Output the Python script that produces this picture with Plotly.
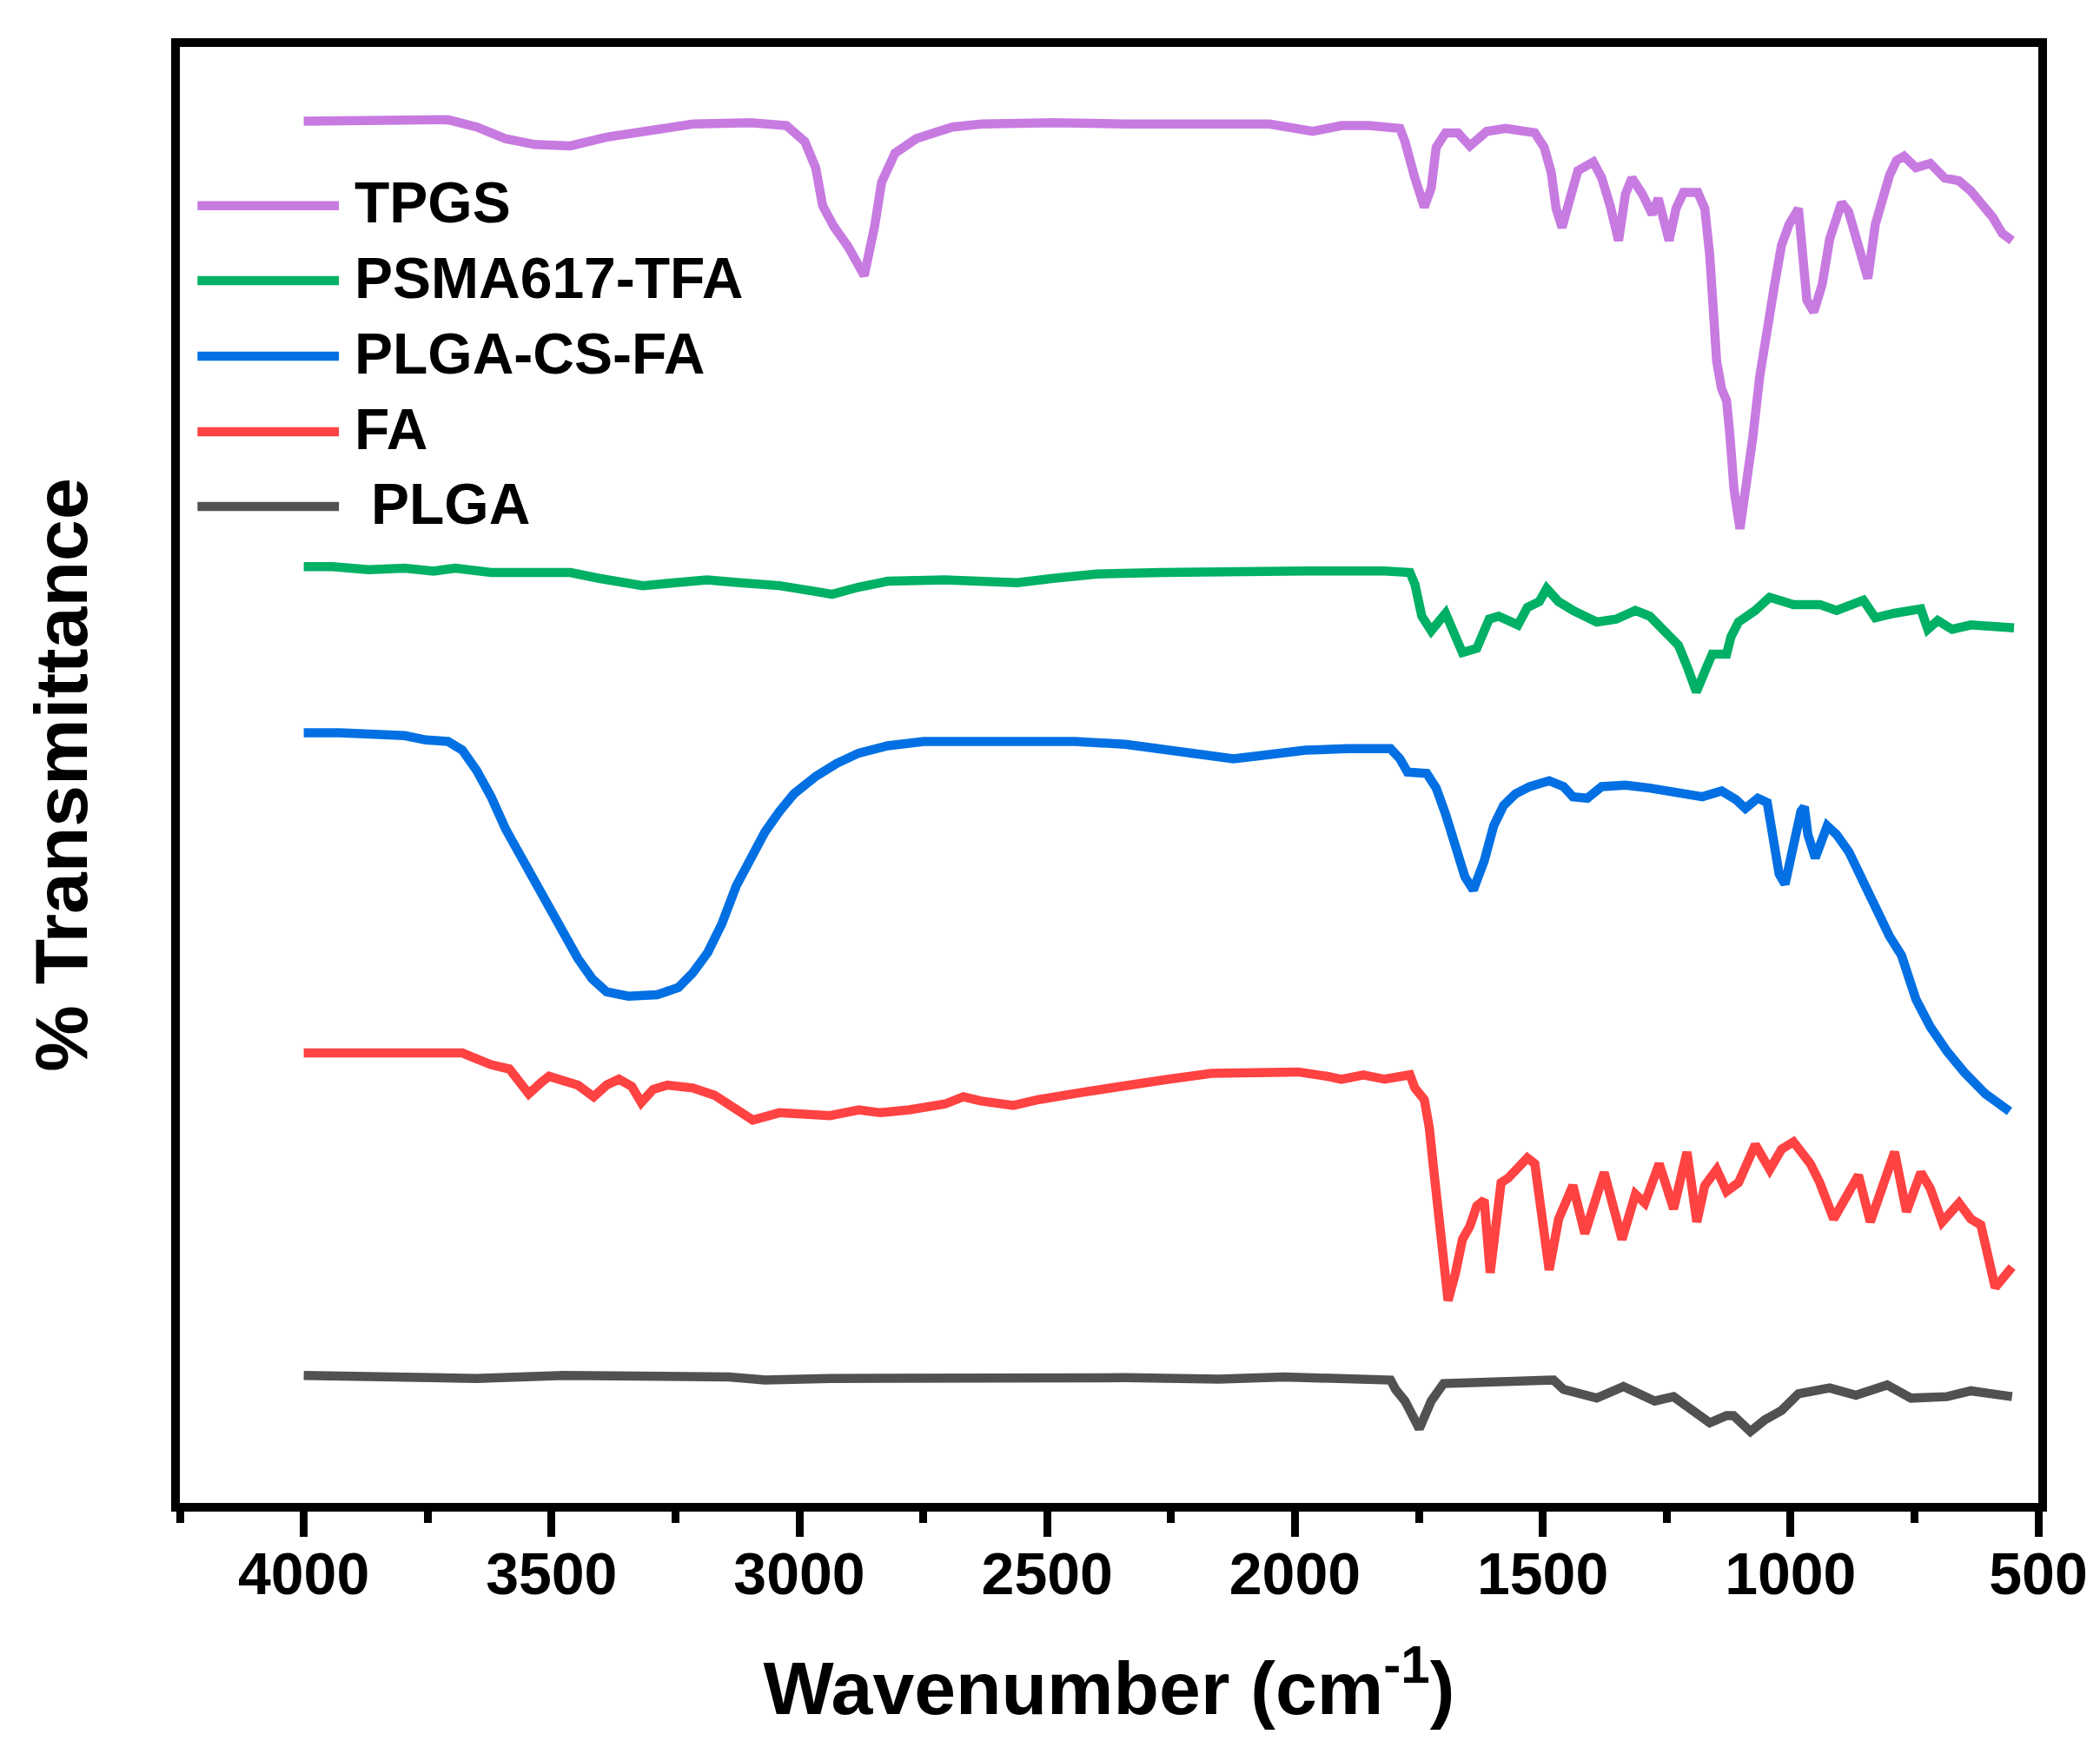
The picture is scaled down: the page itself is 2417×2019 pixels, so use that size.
import plotly.graph_objects as go

# ---------------- data (wavenumber cm^-1, % transmittance, offset per sample) ----------------
TPGS = [(4000, 94.9), (3753, 94.9), (3709, 95.0), (3651, 94.5), (3593, 93.7), (3534, 93.3),
        (3462, 93.2), (3389, 93.8), (3302, 94.3), (3215, 94.7), (3098, 94.8), (3026, 94.6),
        (2989, 93.5), (2967, 91.7), (2953, 89.1), (2931, 87.7), (2902, 86.3), (2869, 84.3),
        (2848, 87.7), (2834, 90.7), (2807, 92.7), (2764, 93.7), (2691, 94.5), (2633, 94.7),
        (2488, 94.8), (2342, 94.7), (2051, 94.7), (1964, 94.2), (1906, 94.6), (1850, 94.6),
        (1788, 94.4), (1778, 93.5), (1758, 91.0), (1739, 89.0), (1725, 90.3), (1715, 93.1),
        (1696, 94.1), (1671, 94.1), (1647, 93.2), (1613, 94.2), (1575, 94.4), (1516, 94.1),
        (1497, 93.1), (1483, 91.4), (1473, 88.9), (1461, 87.6), (1444, 89.7), (1429, 91.5),
        (1398, 92.1), (1381, 91.0), (1364, 89.1), (1347, 86.7), (1333, 89.9), (1320, 91.0),
        (1299, 89.9), (1279, 88.5), (1267, 89.6), (1255, 88.0), (1245, 86.7), (1231, 88.9),
        (1216, 90.0), (1187, 90.0), (1173, 88.9), (1163, 85.7), (1156, 82.6), (1149, 78.4),
        (1139, 76.5), (1129, 75.7), (1122, 73.2), (1114, 69.6), (1102, 66.9), (1091, 69.4),
        (1076, 73.2), (1062, 77.4), (1047, 80.9), (1032, 83.7), (1018, 86.4), (1003, 87.8),
        (984, 88.9), (974, 85.7), (967, 82.6), (953, 81.8), (936, 83.7), (921, 86.8),
        (907, 88.5), (897, 89.3), (883, 88.7), (868, 86.8), (853, 84.7), (844, 84.1),
        (829, 87.8), (815, 89.7), (800, 91.2), (786, 92.2), (771, 92.5), (747, 91.7),
        (718, 92.0), (689, 91.0), (660, 90.8), (636, 90.1), (616, 89.3), (592, 88.3),
        (573, 87.2), (553, 86.7)]

PSMA617_TFA = [(4000, 64.3), (3942, 64.3), (3869, 64.1), (3796, 64.2), (3738, 64.0), (3694, 64.2),
               (3622, 63.9), (3462, 63.9), (3404, 63.5), (3316, 63.0), (3251, 63.2), (3186, 63.4),
               (3120, 63.2), (3040, 63.0), (2967, 62.6), (2934, 62.4), (2880, 62.9), (2822, 63.3),
               (2706, 63.4), (2560, 63.2), (2488, 63.5), (2400, 63.8), (2270, 63.9), (2153, 64.0),
               (1979, 64.0), (1819, 64.0), (1768, 63.9), (1758, 63.1), (1744, 60.9), (1725, 59.9),
               (1696, 61.1), (1676, 59.5), (1662, 58.4), (1633, 58.7), (1608, 60.7), (1589, 60.9),
               (1550, 60.3), (1531, 61.5), (1507, 61.9), (1492, 62.8), (1468, 61.9), (1439, 61.3),
               (1391, 60.5), (1352, 60.7), (1313, 61.3), (1284, 60.9), (1255, 59.9), (1226, 58.9),
               (1207, 57.3), (1190, 55.7), (1173, 57.1), (1158, 58.3), (1129, 58.3), (1120, 59.5),
               (1105, 60.5), (1071, 61.3), (1042, 62.2), (994, 61.7), (941, 61.7), (907, 61.3),
               (853, 62.0), (829, 60.8), (791, 61.1), (737, 61.4), (723, 60.0), (703, 60.6),
               (674, 60.0), (636, 60.3), (549, 60.1)]

PLGA_CS_FA = [(4000, 52.9), (3927, 52.9), (3796, 52.7), (3753, 52.4), (3709, 52.3), (3680, 51.7),
              (3651, 50.3), (3622, 48.5), (3593, 46.3), (3564, 44.5), (3534, 42.8), (3505, 40.8),
              (3476, 39.0), (3447, 37.4), (3418, 36.0), (3389, 35.1), (3345, 34.8), (3287, 34.9),
              (3244, 35.4), (3215, 36.4), (3185, 37.8), (3156, 39.8), (3127, 42.4), (3098, 44.4),
              (3069, 46.1), (3040, 47.5), (3011, 48.7), (2967, 49.9), (2924, 50.8), (2880, 51.5),
              (2822, 52.0), (2749, 52.3), (2633, 52.3), (2444, 52.3), (2342, 52.1), (2270, 51.8),
              (2197, 51.4), (2124, 51.1), (2051, 51.4), (1979, 51.7), (1894, 51.8), (1807, 51.8),
              (1788, 51.1), (1773, 50.2), (1734, 50.1), (1715, 49.1), (1696, 47.3), (1676, 45.1),
              (1657, 43.0), (1640, 42.1), (1618, 44.1), (1599, 46.5), (1579, 47.9), (1555, 48.7),
              (1526, 49.2), (1487, 49.6), (1458, 49.2), (1439, 48.5), (1410, 48.4), (1381, 49.2),
              (1333, 49.3), (1284, 49.1), (1236, 48.8), (1178, 48.5), (1139, 48.9), (1110, 48.3),
              (1091, 47.7), (1066, 48.4), (1047, 48.1), (1032, 45.5), (1023, 43.2), (1011, 42.5),
              (994, 45.1), (979, 47.5), (972, 47.8), (965, 45.9), (950, 44.3), (936, 45.9),
              (926, 46.5), (907, 45.9), (882, 44.7), (858, 43.0), (829, 41.0), (800, 38.9),
              (776, 37.6), (747, 34.6), (718, 32.7), (684, 31.0), (650, 29.6), (607, 28.1),
              (558, 26.9)]

FA = [(4000, 30.9), (3680, 30.9), (3651, 30.5), (3622, 30.1), (3585, 29.8), (3564, 28.8),
      (3546, 28.1), (3520, 28.9), (3505, 29.3), (3476, 29.0), (3447, 28.7), (3415, 27.9),
      (3389, 28.7), (3364, 29.1), (3338, 28.6), (3319, 27.5), (3295, 28.4), (3266, 28.7),
      (3215, 28.5), (3171, 28.0), (3127, 27.1), (3094, 26.3), (3040, 26.8), (2982, 26.7),
      (2938, 26.6), (2880, 27.0), (2837, 26.8), (2778, 27.0), (2706, 27.4), (2669, 27.9),
      (2633, 27.6), (2568, 27.3), (2517, 27.7), (2429, 28.2), (2342, 28.7), (2255, 29.1),
      (2168, 29.5), (2080, 29.6), (1993, 29.6), (1935, 29.3), (1906, 29.1), (1862, 29.4),
      (1819, 29.1), (1768, 29.4), (1758, 28.5), (1739, 27.7), (1729, 25.8), (1720, 22.9),
      (1710, 20.0), (1700, 15.8), (1691, 13.9), (1676, 15.8), (1662, 18.1), (1647, 19.0),
      (1633, 20.4), (1618, 20.8), (1606, 15.8), (1584, 22.0), (1570, 22.3), (1531, 23.7),
      (1516, 23.3), (1487, 16.0), (1468, 19.5), (1439, 21.8), (1415, 18.5), (1376, 22.7),
      (1340, 18.1), (1313, 21.2), (1294, 20.6), (1265, 23.3), (1236, 20.2), (1209, 24.1),
      (1189, 19.3), (1173, 21.8), (1149, 22.9), (1129, 21.4), (1105, 22.0), (1071, 24.6),
      (1042, 22.9), (1018, 24.3), (994, 24.8), (960, 23.3), (941, 22.0), (913, 19.5),
      (863, 22.5), (839, 19.3), (790, 24.1), (766, 20.0), (737, 22.7), (718, 21.6),
      (694, 19.3), (660, 20.6), (636, 19.5), (616, 19.1), (587, 14.8), (570, 15.5),
      (553, 16.2)]

PLGA = [(4000, 8.75), (3753, 8.55), (3651, 8.55), (3476, 8.75), (3142, 8.65), (3069, 8.45),
        (2938, 8.55), (2342, 8.6), (2153, 8.5), (2022, 8.65), (1894, 8.44), (1807, 8.44),
        (1797, 7.8), (1778, 7.0), (1749, 5.1), (1725, 7.0), (1700, 8.2), (1623, 8.25),
        (1478, 8.44), (1458, 7.8), (1420, 7.4), (1391, 7.2), (1337, 8.0), (1313, 7.6),
        (1274, 7.0), (1236, 7.3), (1197, 6.35), (1163, 5.5), (1129, 6.0), (1115, 6.0),
        (1081, 4.9), (1052, 5.7), (1018, 6.35), (984, 7.5), (921, 7.9), (868, 7.4),
        (805, 8.1), (757, 7.2), (684, 7.3), (636, 7.7), (553, 7.3)]

SERIES_NAMES = ["TPGS", "PSMA617-TFA", "PLGA-CS-FA", "FA", "PLGA"]
SERIES_DATA = [TPGS, PSMA617_TFA, PLGA_CS_FA, FA, PLGA]
SERIES_COLORS = ["#C77BE1", "#00B065", "#0270E3", "#FF4242", "#515151"]
LEGEND_LABELS = ["TPGS", "PSMA617-TFA", "PLGA-CS-FA", "FA", "PLGA"]

X_TITLE = "Wavenumber (cm<sup>-1</sup>)"
Y_TITLE = "% Transmittance"

# ---------------- figure ----------------
FONT = "Liberation Sans, Arial, Helvetica, sans-serif"
fig = go.Figure()
for name, pts, color in zip(SERIES_NAMES, SERIES_DATA, SERIES_COLORS):
    fig.add_trace(go.Scatter(
        x=[p[0] for p in pts], y=[p[1] for p in pts], mode="lines", name=name,
        line=dict(color=color, width=10.5), showlegend=False, hoverinfo="x+y+name"))

# manual legend (long line samples as in the original)
leg_y = [0.891, 0.8395, 0.7876, 0.7357, 0.6844]
leg_text_x = [0.093, 0.093, 0.093, 0.093, 0.102]
shapes = []
annotations = []
for i, (label, color) in enumerate(zip(LEGEND_LABELS, SERIES_COLORS)):
    shapes.append(dict(type="line", xref="paper", yref="paper", x0=0.0095, x1=0.0856,
                       y0=leg_y[i], y1=leg_y[i], line=dict(color=color, width=10.5)))
    annotations.append(dict(xref="paper", yref="paper", x=leg_text_x[i], y=leg_y[i] + 0.002,
                            xanchor="left", yanchor="middle", showarrow=False,
                            text=label,
                            font=dict(family=FONT, size=66, color="black", weight="bold")))

fig.update_layout(
    width=2417, height=2019,
    margin=dict(l=207, r=71, t=54, b=289),
    paper_bgcolor="white", plot_bgcolor="white",
    font=dict(family=FONT, color="black"),
    shapes=shapes, annotations=annotations,
    showlegend=False,
    xaxis=dict(
        range=[4250, 500], tickmode="linear", tick0=500, dtick=500,
        ticks="outside", ticklen=29, tickwidth=9, tickcolor="black",
        ticklabelstandoff=-16,
        showline=True, linewidth=10, linecolor="black", mirror=True,
        showgrid=False, zeroline=False, automargin=False,
        tickfont=dict(family=FONT, size=68, color="black", weight="bold"),
        minor=dict(ticks="outside", ticklen=13, tickwidth=9, tickcolor="black",
                   tick0=500, dtick=250, showgrid=False),
        title=dict(text=X_TITLE, standoff=69,
                   font=dict(family=FONT, size=86, color="black", weight="bold")),
    ),
    yaxis=dict(
        range=[0, 100], showticklabels=False, ticks="",
        showline=True, linewidth=10, linecolor="black", mirror=True,
        showgrid=False, zeroline=False, automargin=False,
        title=dict(text=Y_TITLE, standoff=72,
                   font=dict(family=FONT, size=86, color="black", weight="bold")),
    ),
)

fig.write_html("out.html")
